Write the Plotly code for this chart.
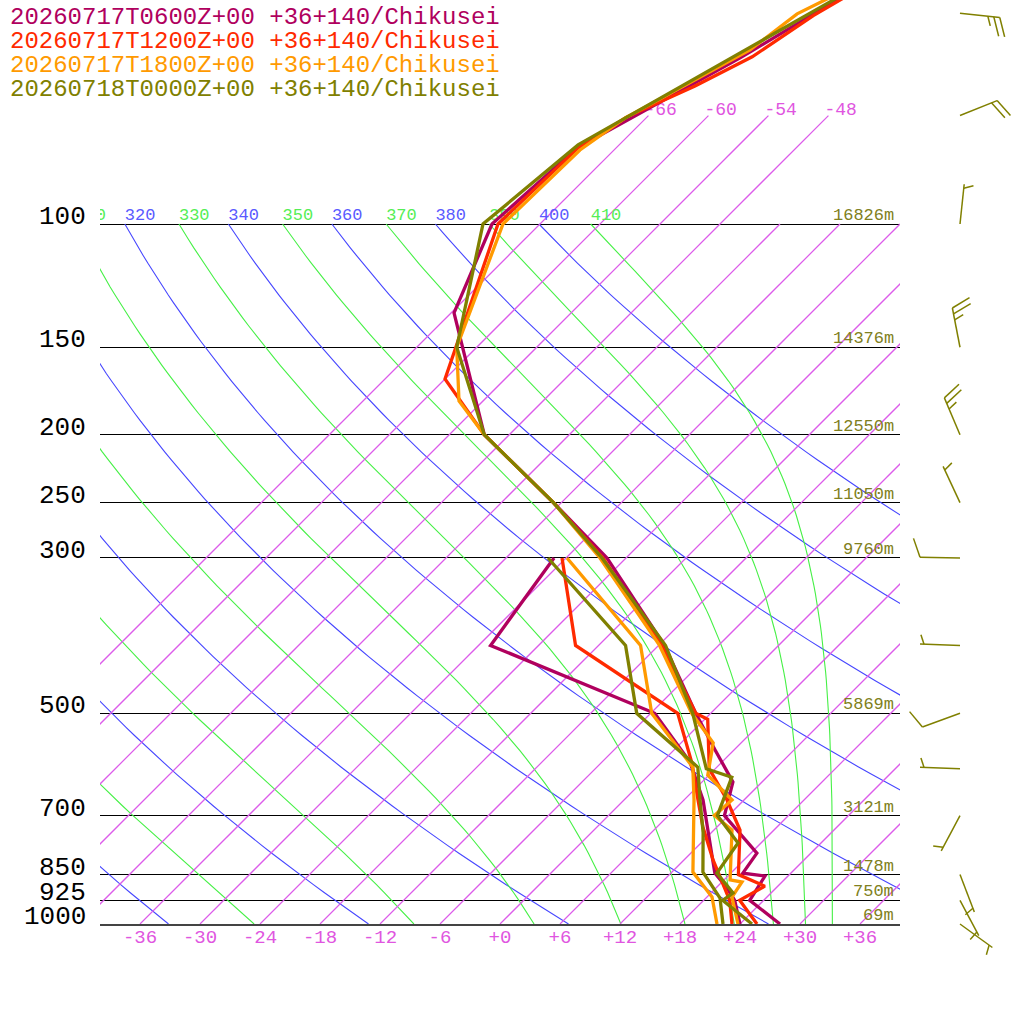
import numpy as np
import plotly.graph_objects as go

# skew-T setup: x = T + SKEW * log10(1000/p), 10 px per degC, 700 px per decade
SKEW = 70.0

# --- soundings (hPa, degC) ---
p_t_0600 = [43.4, 57.9, 77.9, 100, 134, 200, 250, 300, 400, 500, 564, 627, 700, 734, 792, 846, 854, 925, 1000]
t_0600 = [-56.7, -62.6, -69.9, -70.8, -65.7, -50.5, -36.8, -25.9, -11.4, -1.5, 4.1, 9.1, 11.6, 14.3, 18.6, 19.2, 21.7, 22.6, 28.0]
p_td_0600 = [300, 400, 500, 587, 665, 741, 846, 888, 925, 1000]
td_0600 = [-31.2, -28.8, -5.6, 2.8, 7.9, 11.7, 16.4, 19.1, 21.1, 24.0]

p_t_1200 = [43.4, 50.4, 57.7, 63.5, 70.3, 77.9, 100, 166.5, 200, 250, 300, 400, 500, 510, 600, 665, 734, 850, 883, 925, 1000]
t_1200 = [-56.3, -59.5, -61.5, -64.3, -68.0, -69.8, -70.2, -60.0, -50.5, -36.8, -26.3, -11.7, -1.5, 0.3, 5.4, 10.3, 14.6, 18.9, 22.7, 21.6, 25.7]
p_td_1200 = [300, 400, 500, 589, 665, 727, 810, 886, 925, 1000]
td_1200 = [-30.4, -20.3, -3.3, 3.1, 7.4, 10.6, 14.9, 18.8, 20.6, 23.2]

p_t_1800 = [43.4, 50.1, 56.4, 70.6, 78.4, 100, 150, 179, 200, 250, 300, 400, 500, 551, 613, 665, 700, 734, 865, 871, 915, 1000]
t_1800 = [-56.9, -61.3, -62.4, -68.1, -69.4, -69.7, -62.0, -56.4, -50.5, -36.8, -26.6, -11.9, -1.9, 3.2, 5.9, 10.8, 10.6, 13.8, 18.6, 20.0, 20.5, 23.8]
p_td_1800 = [300, 400, 500, 597, 665, 843, 915, 1000]
td_1800 = [-29.9, -13.8, -5.9, 3.6, 7.0, 14.1, 18.5, 21.7]

p_t_0000 = [43.4, 77.1, 100, 150, 200, 250, 300, 400, 500, 600, 617, 700, 766, 846, 903, 925, 1000]
t_0000 = [-56.8, -70.1, -71.7, -62.0, -50.5, -36.8, -26.4, -11.3, -1.8, 5.1, 8.5, 10.9, 15.7, 16.6, 20.2, 19.9, 25.2]
p_td_0000 = [300, 400, 500, 597, 665, 741, 843, 918, 1000]
td_0000 = [-31.8, -15.3, -7.4, 4.1, 7.6, 11.2, 15.1, 19.4, 22.3]

# wind barbs (latest run)
wind_p = [50, 70, 100, 150, 200, 250, 300, 400, 500, 600, 700, 850, 925, 1000]
wind_dir = [96, 68, 6, 349, 337, 335, 271, 272, 250, 272, 208, 159, 152, 126]
wind_kt = [25, 20, 5, 25, 25, 5, 10, 5, 10, 5, 5, 5, 5, 5]

p_levels = [100, 150, 200, 250, 300, 500, 700, 850, 925, 1000]
heights = ["16826m", "14376m", "12550m", "11050m", "9760m", "5869m", "3121m", "1478m", "750m", "69m"]

titles = ["20260717T0600Z+00 +36+140/Chikusei",
          "20260717T1200Z+00 +36+140/Chikusei",
          "20260717T1800Z+00 +36+140/Chikusei",
          "20260718T0000Z+00 +36+140/Chikusei"]
colors = ["#b0005e", "#ff2a00", "#ff9a00", "#808000"]

isotherms = list(range(-66, 37, 6))
dry_thetas = list(range(240, 401, 20))
moist_thetas = list(range(250, 411, 20))

MONO = "Liberation Mono"
ISO_COLOR = "#dc5cea"


def skx(t, p):
    return np.asarray(t, float) + SKEW * np.log10(1000.0 / np.asarray(p, float))


def theta_e_sat(tk, p):
    tc = tk - 273.15
    es = 6.112 * np.exp(17.67 * tc / (tc + 243.5))
    r = 622.0 * es / (p - es)
    th = tk * (1000.0 / p) ** (0.2854 * (1 - 0.00028 * r))
    return th * np.exp((3.376 / tk - 0.00254) * r * (1 + 0.00081 * r))


def moist_t(the, p):
    lo = np.full_like(p, 150.0)
    hi = np.full_like(p, 320.0)
    with np.errstate(all="ignore"):
        for _ in range(50):
            mid = 0.5 * (lo + hi)
            hot = theta_e_sat(mid, p) > the
            hi = np.where(hot, mid, hi)
            lo = np.where(hot, lo, mid)
    return 0.5 * (lo + hi) - 273.15


fig = go.Figure()

pp = np.geomspace(1000, 100, 90)

# dry adiabats
xs, ys = [], []
for th in dry_thetas:
    t = th * (pp / 1000.0) ** 0.286 - 273.15
    xs += [float(v) for v in skx(t, pp)] + [None]
    ys += [float(v) for v in pp] + [None]
fig.add_trace(go.Scatter(x=xs, y=ys, mode="lines", line=dict(color="rgb(70,70,255)", width=1.1), hoverinfo="skip"))

# pseudo adiabats
xs, ys = [], []
for th in moist_thetas:
    t = moist_t(th, pp)
    xs += [float(v) for v in skx(t, pp)] + [None]
    ys += [float(v) for v in pp] + [None]
fig.add_trace(go.Scatter(x=xs, y=ys, mode="lines", line=dict(color="rgb(70,240,70)", width=1.1), hoverinfo="skip"))

# isotherms (the cold ones run up to 70 hPa); 1px 45-degree strokes render dark, so a bit wider
xs, ys = [], []
for t in isotherms:
    ptop = 70.0 if t <= -48 else 100.0
    xs += [float(v) for v in skx([t, t], [1000.0, ptop])] + [None]
    ys += [1000.0, ptop, None]
fig.add_trace(go.Scatter(x=xs, y=ys, mode="lines", line=dict(color=ISO_COLOR, width=1.25), hoverinfo="skip"))

# labels of the background lines (only the ones that reach into the frame)
dry_x = [float(skx(th * 0.1 ** 0.286 - 273.15, 100)) for th in dry_thetas]
dry_keep = [(x, th) for x, th in zip(dry_x, dry_thetas) if x > -43.5]
fig.add_trace(go.Scatter(
    x=[x for x, _ in dry_keep], y=[100] * len(dry_keep),
    text=[str(th) for _, th in dry_keep], mode="text", textposition="top right", cliponaxis=True,
    textfont=dict(family=MONO, size=17, color="#5a5aff"), hoverinfo="skip"))
moist_x = [float(skx(moist_t(th, np.array([100.0]))[0], 100)) for th in moist_thetas]
moist_keep = [(x, th) for x, th in zip(moist_x, moist_thetas) if x > -43.5]
fig.add_trace(go.Scatter(
    x=[x for x, _ in moist_keep], y=[100] * len(moist_keep),
    text=[str(th) for _, th in moist_keep], mode="text", textposition="top right", cliponaxis=True,
    textfont=dict(family=MONO, size=17, color="#55ee55"), hoverinfo="skip"))
iso_lab = [t for t in isotherms if t <= -48]
fig.add_trace(go.Scatter(
    x=[float(v) - 0.4 for v in skx(iso_lab, [70] * len(iso_lab))], y=[71] * len(iso_lab),
    text=[str(t) for t in iso_lab], mode="text", textposition="top right", cliponaxis=True,
    textfont=dict(family=MONO, size=18, color="#e055e0"), hoverinfo="skip"))

# soundings
runs = [(p_t_0600, t_0600, p_td_0600, td_0600),
        (p_t_1200, t_1200, p_td_1200, td_1200),
        (p_t_1800, t_1800, p_td_1800, td_1800),
        (p_t_0000, t_0000, p_td_0000, td_0000)]
for (pt, tt, pd, td), c in zip(runs, colors):
    fig.add_trace(go.Scatter(x=skx(td, pd), y=pd, mode="lines", line=dict(color=c, width=3.3), hoverinfo="skip"))
    fig.add_trace(go.Scatter(x=skx(tt, pt), y=pt, mode="lines", line=dict(color=c, width=3.3), hoverinfo="skip"))

# wind barbs, drawn in a pixel-sized side panel
bx, by = [], []
STAFF, FULL, HALF, STEP = 40, 20, 10, 6
for p, d, v in zip(wind_p, wind_dir, wind_kt):
    a = np.radians(d)
    ux, uy = np.sin(a), -np.cos(a)
    r = np.radians(70)
    fx, fy = ux * np.cos(r) - uy * np.sin(r), ux * np.sin(r) + uy * np.cos(r)

    segs = [((0, 0), (STAFF * ux, STAFF * uy))]
    n10, n5 = v // 10, (v % 10) // 5
    pos = STAFF if n10 else STAFF - 4
    for _ in range(n10):
        s = (pos * ux, pos * uy)
        segs.append((s, (s[0] + FULL * fx, s[1] + FULL * fy)))
        pos -= STEP
    for _ in range(n5):
        s = (pos * ux, pos * uy)
        segs.append((s, (s[0] + HALF * fx, s[1] + HALF * fy)))
    for s, e in segs:
        bx += [960 + s[0], 960 + e[0], None]
        by += [p * 10 ** (s[1] / 700.0), p * 10 ** (e[1] / 700.0), None]
fig.add_trace(go.Scatter(x=bx, y=by, xaxis="x2", yaxis="y2", mode="lines",
                         line=dict(color="#808000", width=1.5), hoverinfo="skip"))

ann = []
for i, (txt, c) in enumerate(zip(titles, colors)):
    ann.append(dict(text=txt, xref="paper", yref="paper", x=8 / 1024, y=1 - (17 + 24 * i) / 1024,
                    xanchor="left", yanchor="middle", showarrow=False,
                    font=dict(family=MONO, size=24, color=c)))
for p in p_levels:
    ann.append(dict(text=str(p), xref="paper", yref="y", x=88 / 1024, y=np.log10(p),
                    xanchor="right", yanchor="bottom", yshift=-10, showarrow=False,
                    font=dict(family=MONO, size=26, color="black")))
for p, h in zip(p_levels, heights):
    ann.append(dict(text=h, xref="paper", yref="y", x=896 / 1024, y=np.log10(p),
                    xanchor="right", yanchor="bottom", yshift=-3, showarrow=False,
                    font=dict(family=MONO, size=17, color="#808020")))

tick_t = list(range(-36, 37, 6))
fig.update_layout(
    width=1024, height=1024,
    margin=dict(l=0, r=0, t=0, b=0, pad=0),
    paper_bgcolor="white", plot_bgcolor="white",
    showlegend=False,
    annotations=ann,
    xaxis=dict(domain=[100 / 1024, 900 / 1024], range=[-40, 40], anchor="y",
               tickvals=tick_t, ticktext=[f"{t:+d}" for t in tick_t], ticks="",
               ticklabelstandoff=-6,
               tickfont=dict(family=MONO, size=19, color="#e055e0"),
               showgrid=False, zeroline=False, showline=True, linecolor="#444", linewidth=2),
    yaxis=dict(domain=[100 / 1024, 1], type="log", range=[3, 3 - 924 / 700], anchor="x",
               tickvals=p_levels, showticklabels=False, ticks="",
               showgrid=True, gridcolor="black", gridwidth=1.2, zeroline=False, showline=False),
    xaxis2=dict(domain=[900 / 1024, 1], range=[900, 1024], anchor="y2", visible=False),
    yaxis2=dict(domain=[0, 1], type="log", range=[3 + 100 / 700, 3 - 924 / 700], anchor="x2", visible=False),
)

# page body has a default 8px margin; drop it so the figure sits at the corner
fig.write_html("out.html", config={"displayModeBar": False},
               post_script="document.body.style.margin='0px';")
